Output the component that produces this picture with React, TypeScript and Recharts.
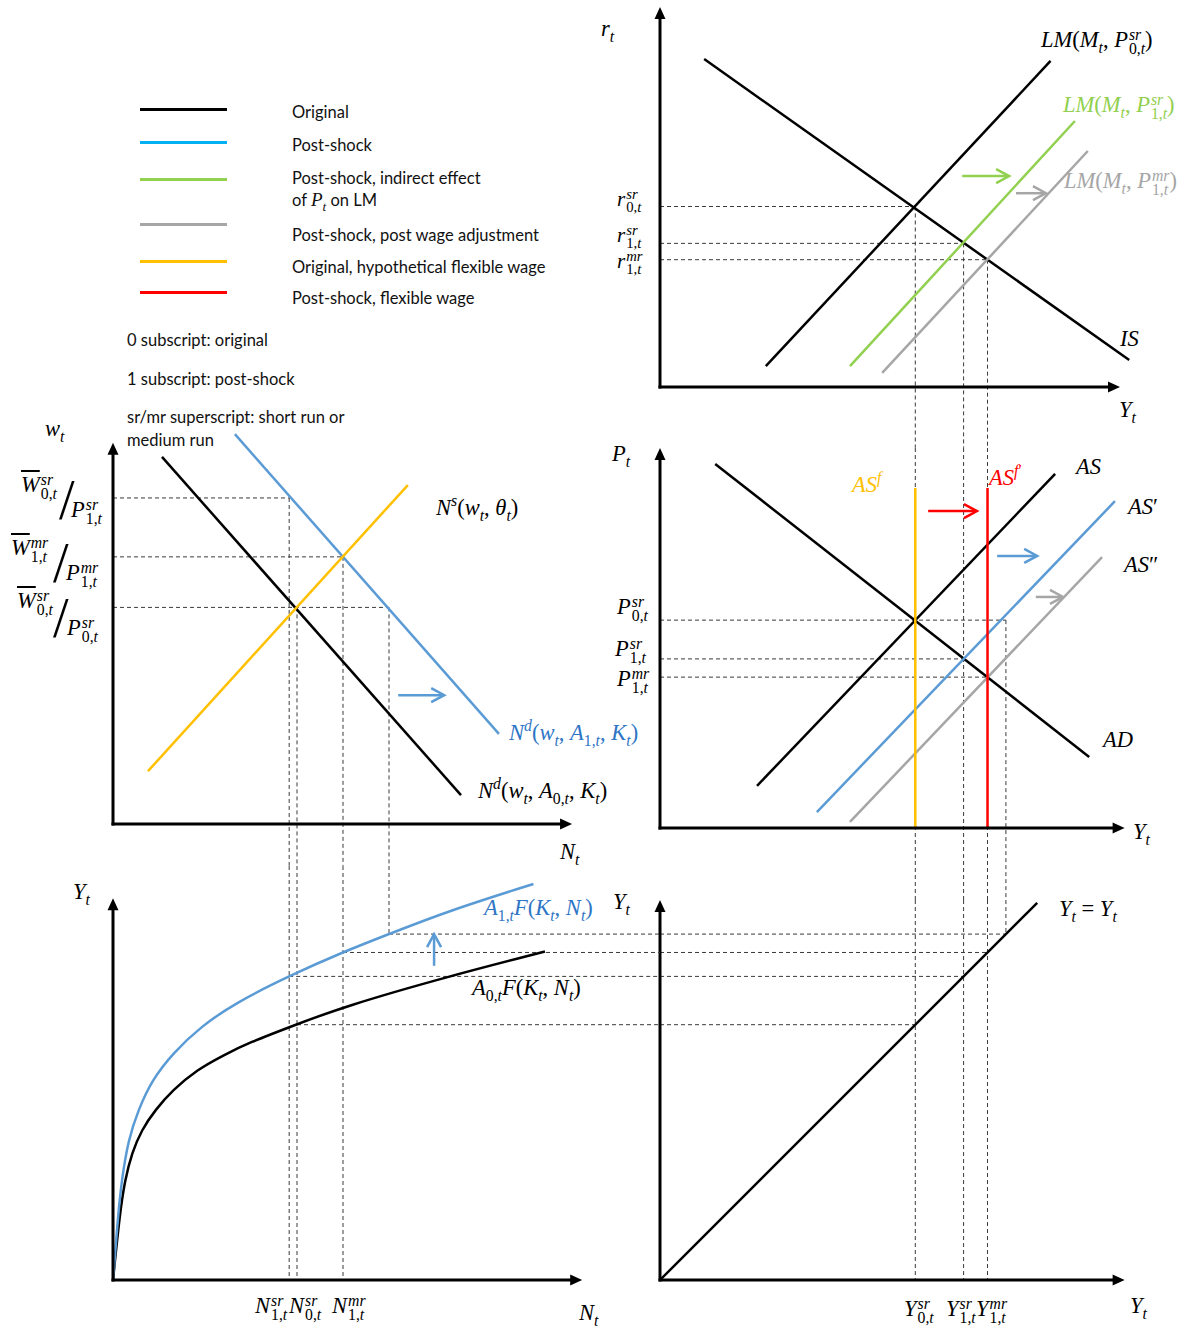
import React from 'react';
import { ComposedChart, Line, XAxis, YAxis, ReferenceLine } from 'recharts';

type Pt = { x: number; y: number };

const W = 1189;
const H = 1329;

const BLACK = '#000000';
const BLUE = '#5B9BD5';
const GREEN = '#92D050';
const GREY = '#A6A6A6';
const ORANGE = '#FFC000';
const RED = '#FF0000';
const BLUE_TEXT = '#2E75C6';
const SERIF = '"Liberation Serif", "Times New Roman", serif';
const SANS = 'Lato, "Open Sans", sans-serif';

// legend
const legendLabels = [
  'Original',
  'Post-shock',
  'Post-shock, indirect effect',
  'Post-shock, post wage adjustment',
  'Original, hypothetical flexible wage',
  'Post-shock, flexible wage',
];
const legendColors = [BLACK, '#00B0F0', GREEN, GREY, ORANGE, RED];
const notes = ['0 subscript: original', '1 subscript: post-shock', 'sr/mr superscript: short run or', 'medium run'];

// equilibrium levels
const outputLevels = [55.5, 66, 71.2, 75.2]; // Y0sr, Y1sr, Y1mr, Y on AS' at P0sr
const rateLevels = [47.5, 37.8, 33.5]; // r0sr, r1sr, r1mr
const priceLevels = [54.7, 44.5, 39.7]; // P0sr, P1sr, P1mr
const labourLevels = [40, 38.3, 50, 60]; // N0sr, N1sr, N1mr, N on Nd' at W0/P0
const wageLevels = [57, 85.8, 70.3]; // W0/P0, W0/P1, W1mr/P1mr

// IS-LM (x: output, y: interest rate)
const isCurve: Pt[] = [{ x: 9.6, y: 86.3 }, { x: 102, y: 7.1 }];
const lmOriginal: Pt[] = [{ x: 23, y: 5.5 }, { x: 84.9, y: 85.8 }];
const lmIndirect: Pt[] = [{ x: 41.3, y: 5.5 }, { x: 90.2, y: 70 }];
const lmMedium: Pt[] = [{ x: 48.3, y: 3.7 }, { x: 93, y: 62.1 }];

// AS-AD (x: output, y: price level)
const adCurve: Pt[] = [{ x: 12, y: 95.8 }, { x: 93.3, y: 18.7 }];
const asOriginal: Pt[] = [{ x: 21.1, y: 11.1 }, { x: 85.9, y: 93.2 }];
const asShock: Pt[] = [{ x: 34.1, y: 4.2 }, { x: 98.9, y: 86 }];
const asMedium: Pt[] = [{ x: 41.3, y: 1.6 }, { x: 96.1, y: 71.3 }];
const asFlexTop = 89.5;

// labour market (x: employment, y: real wage)
const ndOriginal: Pt[] = [{ x: 10.65, y: 96.6 }, { x: 75.65, y: 7.6 }];
const ndShock: Pt[] = [{ x: 26.5, y: 102.6 }, { x: 83.9, y: 23.7 }];
const nsCurve: Pt[] = [{ x: 7.6, y: 13.9 }, { x: 64.1, y: 89.2 }];

// production function (x: employment, y: output)
const prodOriginal: Pt[] = [
  { x: 0, y: 0 }, { x: 1.5, y: 14.6 }, { x: 2.6, y: 21.7 }, { x: 4.1, y: 27.6 }, { x: 6.2, y: 32.6 },
  { x: 9.2, y: 37 }, { x: 13, y: 41.3 }, { x: 18.2, y: 45.7 }, { x: 24.1, y: 48.9 }, { x: 29.3, y: 51.5 },
  { x: 40, y: 55.6 }, { x: 50.1, y: 59.4 }, { x: 72.5, y: 65.9 }, { x: 93.9, y: 71.4 },
];
const prodShock: Pt[] = [
  { x: 0, y: 0 }, { x: 1.15, y: 14.6 }, { x: 1.9, y: 21.7 }, { x: 3.3, y: 30.4 }, { x: 5.5, y: 37 },
  { x: 8.5, y: 43.5 }, { x: 13, y: 49.3 }, { x: 19, y: 55 }, { x: 26.5, y: 60.2 }, { x: 38.3, y: 66.1 },
  { x: 50, y: 71.3 }, { x: 60, y: 75.2 }, { x: 72.5, y: 80.1 }, { x: 91.4, y: 86.1 },
];

// 45-degree line
const diagonal: Pt[] = [{ x: 0, y: 0 }, { x: 82, y: 82 }];

// shift arrows: [from, to, colour]
const lmShifts: [Pt, Pt, string][] = [
  [{ x: 65.7, y: 55.5 }, { x: 75.9, y: 55.5 }, GREEN],
  [{ x: 77.4, y: 51 }, { x: 83.9, y: 51 }, GREY],
];
const asShifts: [Pt, Pt, string][] = [
  [{ x: 58.3, y: 83.4 }, { x: 68.9, y: 83.4 }, RED],
  [{ x: 73.3, y: 71.6 }, { x: 82, y: 71.6 }, BLUE],
  [{ x: 81.7, y: 60.8 }, { x: 87.6, y: 60.8 }, GREY],
];
const ndShift: [Pt, Pt] = [{ x: 62, y: 33.9 }, { x: 72, y: 33.9 }];
const prodShift: [Pt, Pt] = [{ x: 69.8, y: 68.3 }, { x: 69.8, y: 75.2 }];

// ---------- layout ----------
type Frame = {
  margin: { left: number; top: number; right: number; bottom: number };
  x: [number, number];
  y: [number, number];
};
const frame = (ox: number, oy: number, sx: number, sy: number, x: [number, number], y: [number, number]): Frame => ({
  margin: { left: ox + x[0] * sx, top: oy - y[1] * sy, right: W - (ox + x[1] * sx), bottom: H - (oy - y[0] * sy) },
  x,
  y,
});

const TR = frame(660, 387, 4.6, 3.8, [0, 105], [-16, 100]);
const MR = frame(660, 828, 4.6, 3.8, [0, 105], [-19, 100]);
const BR = frame(660, 1280, 4.6, 4.6, [0, 105], [0, 82.6]);
const ML = frame(113, 824, 4.6, 3.8, [0, 100], [-11, 105]);
const BL = frame(113, 1280, 4.6, 4.6, [0, 118.9], [0, 90]);

const Panel = ({ f, children }: { f: Frame; children: React.ReactNode }) => (
  <div style={{ position: 'absolute', left: 0, top: 0 }}>
    <ComposedChart width={W} height={H} margin={f.margin}>
      <XAxis type="number" dataKey="x" domain={f.x} hide allowDataOverflow />
      <YAxis type="number" domain={f.y} hide allowDataOverflow />
      {children}
    </ComposedChart>
  </div>
);

const arrowShape = (color: string, width: number, filled: boolean) => (p: any) => {
  const { x1, y1, x2, y2 } = p;
  const a = Math.atan2(y2 - y1, x2 - x1);
  const c = Math.cos(a);
  const s = Math.sin(a);
  const len = filled ? 12 : 13;
  const half = filled ? 5.5 : 7;
  const bx = x2 - len * c;
  const by = y2 - len * s;
  const pts = `${bx + half * s},${by - half * c} ${x2},${y2} ${bx - half * s},${by + half * c}`;
  if (filled) {
    return (
      <g>
        <line x1={x1} y1={y1} x2={bx + c} y2={by + s} stroke={color} strokeWidth={width} strokeLinecap="square" />
        <polygon points={pts} fill={color} />
      </g>
    );
  }
  return (
    <g>
      <line x1={x1} y1={y1} x2={x2 - 1.5 * c} y2={y2 - 1.5 * s} stroke={color} strokeWidth={width} />
      <polyline points={pts} fill="none" stroke={color} strokeWidth={width} />
    </g>
  );
};

const guide = (a: Pt, b: Pt) => (
  <ReferenceLine segment={[a, b]} ifOverflow="visible" stroke="#3a3a3a" strokeWidth={1} strokeDasharray="4 3" />
);
const axis = (b: Pt) => (
  <ReferenceLine segment={[{ x: 0, y: 0 }, b]} ifOverflow="visible" shape={arrowShape(BLACK, 3, true)} />
);
const shift = (a: Pt, b: Pt, color: string) => (
  <ReferenceLine segment={[a, b]} ifOverflow="visible" shape={arrowShape(color, 2.5, false)} />
);
const curve = (data: Pt[], color: string, type: 'linear' | 'basis' = 'linear') => (
  <Line
    data={data}
    dataKey="y"
    type={type}
    stroke={color}
    strokeWidth={2.5}
    dot={false}
    activeDot={false}
    isAnimationActive={false}
  />
);

// ---------- math text ----------
const LETTER = /[A-Za-zθ]/;
const styled = (s: string, key: string) =>
  (s.match(/[A-Za-zθ]+|[^A-Za-zθ]+/g) || []).map((part, i) =>
    LETTER.test(part[0]) ? <i key={key + i}>{part}</i> : <span key={key + i}>{part}</span>
  );

const Scripts = ({ sup, sub }: { sup?: string; sub?: string }) => {
  if (sup !== undefined && sub !== undefined) {
    return (
      <span
        style={{
          display: 'inline-flex',
          flexDirection: 'column',
          fontSize: '0.7em',
          lineHeight: 0.92,
          verticalAlign: '0.5em',
          marginLeft: 1,
        }}
      >
        <span>{styled(sup, 'u')}</span>
        <span>{styled(sub, 'd')}</span>
      </span>
    );
  }
  if (sup !== undefined) {
    return <span style={{ fontSize: '0.7em', lineHeight: 1, verticalAlign: '0.55em' }}>{styled(sup, 'u')}</span>;
  }
  return <span style={{ fontSize: '0.7em', lineHeight: 1, verticalAlign: '-0.35em' }}>{styled(sub ?? '', 'd')}</span>;
};

const tex = (src: string) => {
  const out: React.ReactNode[] = [];
  let i = 0;
  let buf = '';
  let k = 0;
  const group = () => {
    if (src[i] === '{') {
      const j = src.indexOf('}', i);
      const g = src.slice(i + 1, j);
      i = j + 1;
      return g;
    }
    return src[i++];
  };
  const flush = () => {
    if (buf) out.push(<React.Fragment key={'t' + k++}>{styled(buf, 'b' + k)}</React.Fragment>);
    buf = '';
  };
  while (i < src.length) {
    if (src[i] === '_' || src[i] === '^') {
      flush();
      let sup: string | undefined;
      let sub: string | undefined;
      while (src[i] === '_' || src[i] === '^') {
        const kind = src[i++];
        const g = group();
        if (kind === '^') sup = g;
        else sub = g;
      }
      out.push(<Scripts key={'s' + k++} sup={sup} sub={sub} />);
    } else {
      buf += src[i++];
    }
  }
  flush();
  return out;
};

const MathAt = ({ x, b, c = BLACK, s = 22.5, children }: { x: number; b: number; c?: string; s?: number; children: React.ReactNode }) => (
  <div
    style={{
      position: 'absolute',
      left: x,
      top: b - 24 - 0.3375 * s,
      height: 48,
      lineHeight: '48px',
      fontFamily: SERIF,
      fontSize: s,
      color: c,
      whiteSpace: 'nowrap',
    }}
  >
    {children}
  </div>
);

const TextAt = ({ x, b, children }: { x: number; b: number; children: React.ReactNode }) => (
  <div
    style={{
      position: 'absolute',
      left: x,
      top: b - 12 - 0.387 * 16.5,
      height: 24,
      lineHeight: '24px',
      fontFamily: SANS,
      fontSize: 16.5,
      color: '#111',
      whiteSpace: 'nowrap',
    }}
  >
    {children}
  </div>
);

const mathLabels: { t: string; x: number; b: number; c?: string; s?: number }[] = [
  { t: 'r_t', x: 601, b: 37 },
  { t: 'LM(M_t, P^{sr}_{0,t})', x: 1041, b: 48 },
  { t: 'LM(M_t, P^{sr}_{1,t})', x: 1063, b: 113, c: GREEN },
  { t: 'LM(M_t, P^{mr}_{1,t})', x: 1064, b: 189, c: GREY },
  { t: 'IS', x: 1120, b: 347 },
  { t: 'Y_t', x: 1119, b: 418 },
  { t: 'r^{sr}_{0,t}', x: 617, b: 206, s: 21 },
  { t: 'r^{sr}_{1,t}', x: 617, b: 242, s: 21 },
  { t: 'r^{mr}_{1,t}', x: 617, b: 268, s: 21 },
  { t: 'P_t', x: 612, b: 462 },
  { t: 'AS^f', x: 852, b: 493, c: ORANGE },
  { t: 'AS^{f′}', x: 989, b: 486, c: RED },
  { t: 'AS', x: 1076, b: 475 },
  { t: 'AS′', x: 1128, b: 515 },
  { t: 'AS″', x: 1124, b: 573 },
  { t: 'AD', x: 1103, b: 748 },
  { t: 'Y_t', x: 1133, b: 840 },
  { t: 'P^{sr}_{0,t}', x: 617, b: 615 },
  { t: 'P^{sr}_{1,t}', x: 615, b: 657 },
  { t: 'P^{mr}_{1,t}', x: 617, b: 687 },
  { t: 'w_t', x: 45, b: 437 },
  { t: 'N^s(w_t, θ_t)', x: 436, b: 516 },
  { t: 'N^d(w_t, A_{1,t}, K_t)', x: 509, b: 741, c: BLUE_TEXT },
  { t: 'N^d(w_t, A_{0,t}, K_t)', x: 478, b: 799 },
  { t: 'N_t', x: 560, b: 860 },
  { t: 'P^{sr}_{1,t}', x: 71, b: 518 },
  { t: 'P^{mr}_{1,t}', x: 66, b: 581 },
  { t: 'P^{sr}_{0,t}', x: 67, b: 636 },
  { t: 'Y_t', x: 73, b: 900 },
  { t: 'A_{1,t}F(K_t, N_t)', x: 484, b: 916, c: BLUE_TEXT },
  { t: 'A_{0,t}F(K_t, N_t)', x: 472, b: 996 },
  { t: 'N^{sr}_{1,t}', x: 255, b: 1314 },
  { t: 'N^{sr}_{0,t}', x: 289, b: 1314 },
  { t: 'N^{mr}_{1,t}', x: 332, b: 1314 },
  { t: 'N_t', x: 579, b: 1321 },
  { t: 'Y_t', x: 613, b: 910 },
  { t: 'Y_t = Y_t', x: 1059, b: 917 },
  { t: 'Y^{sr}_{0,t}', x: 904, b: 1317 },
  { t: 'Y^{sr}_{1,t}', x: 946, b: 1317 },
  { t: 'Y^{mr}_{1,t}', x: 976, b: 1317 },
  { t: 'Y_t', x: 1130, b: 1314 },
];

const wageNumerators = [
  { t: '^{sr}_{0,t}', x: 21, b: 493, slashX: 59, slashB: 519 },
  { t: '^{mr}_{1,t}', x: 11, b: 556, slashX: 53, slashB: 582 },
  { t: '^{sr}_{0,t}', x: 17, b: 609, slashX: 53, slashB: 637 },
];

const legendLineY = [109, 142, 179, 224, 261, 292];
const legendTextB = [118, 151, 184, 241, 273, 304];
const noteB = [346, 385, 423, 446];

export default function App() {
  const [Y0, Y1, YMR, YHYP] = outputLevels;
  const [R0, R1, RMR] = rateLevels;
  const [P0, P1, PMR] = priceLevels;
  const [N0, N1, NMR, NHYP] = labourLevels;
  const [W0, W01, WMR] = wageLevels;

  return (
    <div style={{ position: 'relative', width: W, height: H, background: '#fff', overflow: 'hidden' }}>
      <style>{'body{margin:0}'}</style>

      {/* IS-LM */}
      <Panel f={TR}>
        {guide({ x: 0, y: R0 }, { x: Y0, y: R0 })}
        {guide({ x: 0, y: R1 }, { x: Y1, y: R1 })}
        {guide({ x: 0, y: RMR }, { x: YMR, y: RMR })}
        {guide({ x: Y0, y: R0 }, { x: Y0, y: TR.y[0] })}
        {guide({ x: Y1, y: R1 }, { x: Y1, y: TR.y[0] })}
        {guide({ x: YMR, y: RMR }, { x: YMR, y: TR.y[0] })}
        {curve(isCurve, BLACK)}
        {curve(lmOriginal, BLACK)}
        {curve(lmIndirect, GREEN)}
        {curve(lmMedium, GREY)}
        {shift(lmShifts[0][0], lmShifts[0][1], lmShifts[0][2])}
        {shift(lmShifts[1][0], lmShifts[1][1], lmShifts[1][2])}
        {axis({ x: 0, y: 100 })}
        {axis({ x: 100, y: 0 })}
      </Panel>

      {/* AS-AD */}
      <Panel f={MR}>
        {guide({ x: 0, y: P0 }, { x: YHYP, y: P0 })}
        {guide({ x: 0, y: P1 }, { x: Y1, y: P1 })}
        {guide({ x: 0, y: PMR }, { x: YMR, y: PMR })}
        {guide({ x: Y0, y: MR.y[1] }, { x: Y0, y: MR.y[0] })}
        {guide({ x: Y1, y: MR.y[1] }, { x: Y1, y: MR.y[0] })}
        {guide({ x: YMR, y: MR.y[1] }, { x: YMR, y: MR.y[0] })}
        {guide({ x: YHYP, y: P0 }, { x: YHYP, y: MR.y[0] })}
        {curve(adCurve, BLACK)}
        {curve(asOriginal, BLACK)}
        {curve(asShock, BLUE)}
        {curve(asMedium, GREY)}
        {curve([{ x: Y0, y: asFlexTop }, { x: Y0, y: 0 }], ORANGE)}
        {curve([{ x: YMR, y: asFlexTop }, { x: YMR, y: 0 }], RED)}
        {shift(asShifts[0][0], asShifts[0][1], asShifts[0][2])}
        {shift(asShifts[1][0], asShifts[1][1], asShifts[1][2])}
        {shift(asShifts[2][0], asShifts[2][1], asShifts[2][2])}
        {axis({ x: 0, y: 100 })}
        {axis({ x: 101, y: 0 })}
      </Panel>

      {/* 45-degree line */}
      <Panel f={BR}>
        {guide({ x: Y0, y: BR.y[1] }, { x: Y0, y: 0 })}
        {guide({ x: Y1, y: BR.y[1] }, { x: Y1, y: 0 })}
        {guide({ x: YMR, y: BR.y[1] }, { x: YMR, y: 0 })}
        {guide({ x: YHYP, y: BR.y[1] }, { x: YHYP, y: YHYP })}
        {guide({ x: 0, y: Y0 }, { x: Y0, y: Y0 })}
        {guide({ x: 0, y: Y1 }, { x: Y1, y: Y1 })}
        {guide({ x: 0, y: YMR }, { x: YMR, y: YMR })}
        {guide({ x: 0, y: YHYP }, { x: YHYP, y: YHYP })}
        {curve(diagonal, BLACK)}
        {axis({ x: 0, y: 82.6 })}
        {axis({ x: 101, y: 0 })}
      </Panel>

      {/* labour market */}
      <Panel f={ML}>
        {guide({ x: 0, y: W01 }, { x: N1, y: W01 })}
        {guide({ x: 0, y: WMR }, { x: NMR, y: WMR })}
        {guide({ x: 0, y: W0 }, { x: NHYP, y: W0 })}
        {guide({ x: N1, y: W01 }, { x: N1, y: ML.y[0] })}
        {guide({ x: N0, y: W0 }, { x: N0, y: ML.y[0] })}
        {guide({ x: NMR, y: WMR }, { x: NMR, y: ML.y[0] })}
        {guide({ x: NHYP, y: W0 }, { x: NHYP, y: ML.y[0] })}
        {curve(ndOriginal, BLACK)}
        {curve(ndShock, BLUE)}
        {curve(nsCurve, ORANGE)}
        {shift(ndShift[0], ndShift[1], BLUE)}
        {axis({ x: 0, y: 100.3 })}
        {axis({ x: 99.8, y: 0 })}
      </Panel>

      {/* production function */}
      <Panel f={BL}>
        {guide({ x: N1, y: BL.y[1] }, { x: N1, y: 0 })}
        {guide({ x: N0, y: BL.y[1] }, { x: N0, y: 0 })}
        {guide({ x: NMR, y: BL.y[1] }, { x: NMR, y: 0 })}
        {guide({ x: NHYP, y: BL.y[1] }, { x: NHYP, y: YHYP })}
        {guide({ x: N0, y: Y0 }, { x: BL.x[1], y: Y0 })}
        {guide({ x: N1, y: Y1 }, { x: BL.x[1], y: Y1 })}
        {guide({ x: NMR, y: YMR }, { x: BL.x[1], y: YMR })}
        {guide({ x: NHYP, y: YHYP }, { x: BL.x[1], y: YHYP })}
        {curve(prodOriginal, BLACK, 'basis')}
        {curve(prodShock, BLUE, 'basis')}
        {shift(prodShift[0], prodShift[1], BLUE)}
        {axis({ x: 0, y: 83 })}
        {axis({ x: 102, y: 0 })}
      </Panel>

      {/* legend */}
      {legendColors.map((c, i) => (
        <div key={c} style={{ position: 'absolute', left: 140, top: legendLineY[i] - 1.5, width: 87, height: 3, background: c }} />
      ))}
      {legendLabels.map((t, i) => (
        <TextAt key={t} x={292} b={legendTextB[i]}>
          {t}
        </TextAt>
      ))}
      <TextAt x={292} b={206}>
        of <span style={{ fontFamily: SERIF, fontSize: 19 }}>{tex('P_t')}</span> on LM
      </TextAt>
      {notes.map((t, i) => (
        <TextAt key={t} x={127} b={noteB[i]}>
          {t}
        </TextAt>
      ))}

      {/* math labels */}
      {mathLabels.map((l, i) => (
        <MathAt key={i} x={l.x} b={l.b} c={l.c} s={l.s}>
          {tex(l.t)}
        </MathAt>
      ))}
      {wageNumerators.map((l, i) => (
        <React.Fragment key={'w' + i}>
          <MathAt x={l.x} b={l.b}>
            <span style={{ textDecoration: 'overline' }}>
              <i>W</i>
            </span>
            {tex(l.t)}
          </MathAt>
          <MathAt x={l.slashX} b={l.slashB} s={56}>
            /
          </MathAt>
        </React.Fragment>
      ))}
    </div>
  );
}
